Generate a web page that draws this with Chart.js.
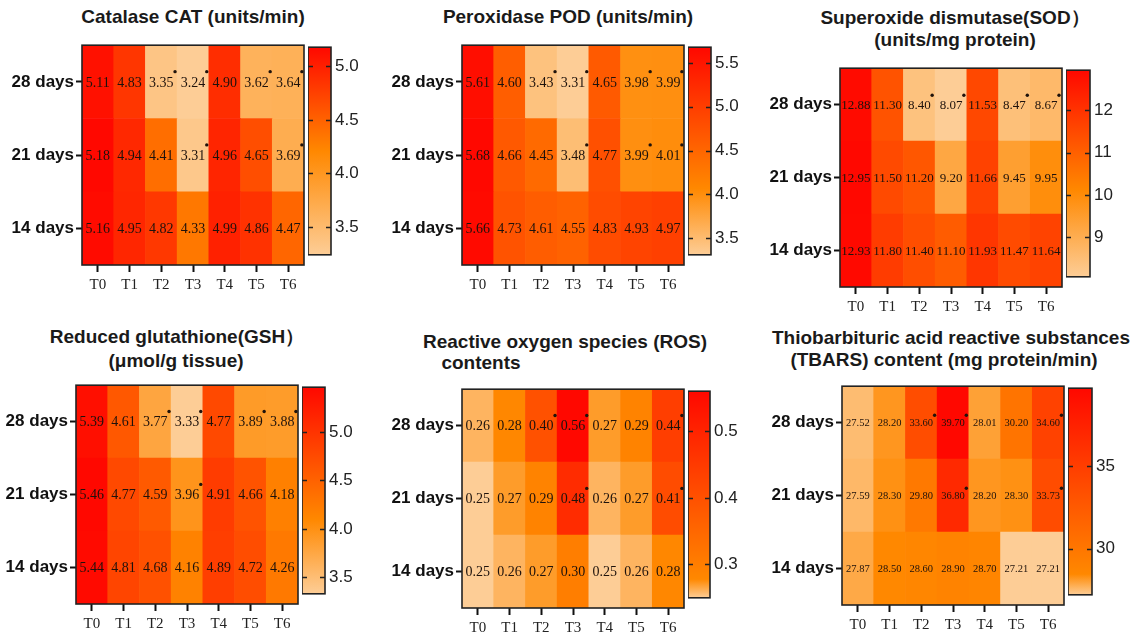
<!DOCTYPE html>
<html>
<head>
<meta charset="utf-8">
<script src="https://cdn.jsdelivr.net/npm/chart.js@4.4.1/dist/chart.umd.min.js"></script>
<style>
body { margin:0; background:#fff; width:1142px; height:638px; position:relative; overflow:hidden; font-family:"Liberation Sans", Arial, sans-serif; }
canvas { position:absolute; }
.title { position:absolute; font-weight:bold; font-size:19px; line-height:22px; color:#1a1a1a; white-space:nowrap; transform:translateX(-50%); }
</style>
</head>
<body>
<script>
// Row / column labels
const treatments = ['T0', 'T1', 'T2', 'T3', 'T4', 'T5', 'T6'];
const dayLabels = ['14 days', '21 days', '28 days'];   // bottom to top

// Catalase CAT (units/min)
const cat28 = [5.11, 4.83, 3.35, 3.24, 4.90, 3.62, 3.64];
const cat21 = [5.18, 4.94, 4.41, 3.31, 4.96, 4.65, 3.69];
const cat14 = [5.16, 4.95, 4.82, 4.33, 4.99, 4.86, 4.47];
const catStar28 = [2, 3, 5, 6];
const catStar21 = [3, 6];

// Peroxidase POD (units/min)
const pod28 = [5.61, 4.60, 3.43, 3.31, 4.65, 3.98, 3.99];
const pod21 = [5.68, 4.66, 4.45, 3.48, 4.77, 3.99, 4.01];
const pod14 = [5.66, 4.73, 4.61, 4.55, 4.83, 4.93, 4.97];
const podStar28 = [2, 3, 5, 6];
const podStar21 = [3, 5, 6];

// Superoxide dismutase SOD (units/mg protein)
const sod28 = [12.88, 11.30, 8.40, 8.07, 11.53, 8.47, 8.67];
const sod21 = [12.95, 11.50, 11.20, 9.20, 11.66, 9.45, 9.95];
const sod14 = [12.93, 11.80, 11.40, 11.10, 11.93, 11.47, 11.64];
const sodStar28 = [2, 3, 5, 6];
const sodStar21 = [];

// Reduced glutathione GSH (umol/g tissue)
const gsh28 = [5.39, 4.61, 3.77, 3.33, 4.77, 3.89, 3.88];
const gsh21 = [5.46, 4.77, 4.59, 3.96, 4.91, 4.66, 4.18];
const gsh14 = [5.44, 4.81, 4.68, 4.16, 4.89, 4.72, 4.26];
const gshStar28 = [2, 3, 5, 6];
const gshStar21 = [3];

// Reactive oxygen species ROS
const ros28 = [0.26, 0.28, 0.40, 0.56, 0.27, 0.29, 0.44];
const ros21 = [0.25, 0.27, 0.29, 0.48, 0.26, 0.27, 0.41];
const ros14 = [0.25, 0.26, 0.27, 0.30, 0.25, 0.26, 0.28];
const rosStar28 = [2, 3, 6];
const rosStar21 = [3, 6];

// TBARS (mg protein/min)
const tbars28 = [27.52, 28.20, 33.60, 39.70, 28.01, 30.20, 34.60];
const tbars21 = [27.59, 28.30, 29.80, 36.80, 28.20, 28.30, 33.73];
const tbars14 = [27.87, 28.50, 28.60, 28.90, 28.70, 27.21, 27.21];
const tbarsStar28 = [2, 3, 6];
const tbarsStar21 = [3, 6];

// layout
const AXIS_W = 80, PAD_T = 6, PAD_R = 2, X_AXIS_H = 36, CB_AXIS_W = 44;
const LOW = [253, 205, 150], MID = [255, 136, 0], HIGH = [255, 8, 0];

const panels = [
    { title: [['Catalase CAT (units/min)', 193, 17]],
      box: [82, 39, 304, 265], cb: [308, 331],
      rows: [cat14, cat21, cat28], stars: [[], catStar21, catStar28],
      mid: 0.5, step: 0.5, dec: 1, cell: 14 },
    { title: [['Peroxidase POD (units/min)', 568, 17]],
      box: [462, 39, 684, 265], cb: [688, 711],
      rows: [pod14, pod21, pod28], stars: [[], podStar21, podStar28],
      mid: 0.32, step: 0.5, dec: 1, cell: 14 },
    { title: [['Superoxide dismutase(SOD）', 955, 18], ['(units/mg protein)', 955, 40]],
      box: [840, 62, 1062, 287], cb: [1066, 1090],
      rows: [sod14, sod21, sod28], stars: [[], sodStar21, sodStar28],
      mid: 0.42, step: 1, dec: 0, cell: 13 },
    { title: [['Reduced glutathione(GSH）', 177, 337], ['(μmol/g tissue)', 176, 361]],
      box: [76, 379, 298, 604], cb: [302, 325],
      rows: [gsh14, gsh21, gsh28], stars: [[], gshStar21, gshStar28],
      mid: 0.36, step: 0.5, dec: 1, cell: 14 },
    { title: [['Reactive oxygen species (ROS)', 565, 342], ['contents', 481, 363]],
      box: [462, 383, 684, 608], cb: [688, 710],
      rows: [ros14, ros21, ros28], stars: [[], rosStar21, rosStar28],
      mid: 0.09, step: 0.1, dec: 1, cell: 14 },
    { title: [['Thiobarbituric acid reactive substances', 951, 338], ['(TBARS) content (mg protein/min)', 944, 360]],
      box: [842, 380, 1064, 605], cb: [1068, 1092],
      rows: [tbars14, tbars21, tbars28], stars: [[], tbarsStar21, tbarsStar28],
      mid: 0.1, step: 5, dec: 0, cell: 10.5 }
];

function mix(a, b, t) {
    return a.map((c, i) => Math.round(c + (b[i] - c) * t));
}

// value -> colour on the peach / orange / red scale
function colorFor(v, lo, hi, mid) {
    const t = Math.max(0, Math.min(1, (v - lo) / (hi - lo)));
    const c = t < mid ? mix(LOW, MID, t / mid) : mix(MID, HIGH, (t - mid) / (1 - mid));
    return 'rgb(' + c.join(',') + ')';
}

function rgb(c) { return 'rgb(' + c.join(',') + ')'; }

function makeCanvas(left, top, w, h) {
    const c = document.createElement('canvas');
    c.width = w; c.height = h;
    c.style.left = left + 'px'; c.style.top = top + 'px';
    c.style.width = w + 'px'; c.style.height = h + 'px';
    document.body.appendChild(c);
    return c;
}

// Draws the numbers, significance dots and the frame of the heatmap
const cellLabels = {
    id: 'cellLabels',
    afterDatasetsDraw(chart, args, opts) {
        const ctx = chart.ctx;
        ctx.save();
        ctx.font = opts.size + 'px "Liberation Serif", "Times New Roman", serif';
        ctx.textAlign = 'center';
        ctx.textBaseline = 'middle';
        ctx.fillStyle = '#1e120c';
        chart.data.datasets.forEach((ds, i) => {
            const meta = chart.getDatasetMeta(i);
            meta.data.forEach((bar, j) => {
                const txt = ds.values[j].toFixed(2);
                const cx = bar.x, cy = (bar.y + bar.base) / 2 + 1;
                ctx.fillText(txt, cx, cy);
                if (ds.stars.includes(j)) {
                    const w = ctx.measureText(txt).width;
                    ctx.beginPath();
                    ctx.arc(cx + w / 2 + 1.5, cy - opts.size * 0.8, 1.7, 0, Math.PI * 2);
                    ctx.fill();
                }
            });
        });
        const a = chart.chartArea;
        ctx.strokeStyle = '#222';
        ctx.lineWidth = 1.6;
        ctx.strokeRect(a.left, a.top, a.right - a.left, a.bottom - a.top);
        ctx.restore();
    }
};

// Frame and inner tick marks of the colour bar
const cbFrame = {
    id: 'cbFrame',
    afterDatasetsDraw(chart) {
        const ctx = chart.ctx, a = chart.chartArea, y = chart.scales.y;
        ctx.save();
        ctx.strokeStyle = '#222';
        ctx.lineWidth = 1.6;
        y.ticks.forEach(t => {
            const py = Math.round(y.getPixelForValue(t.value)) + 0.5;
            ctx.beginPath();
            ctx.moveTo(a.left, py); ctx.lineTo(a.left + 5, py);
            ctx.moveTo(a.right - 5, py); ctx.lineTo(a.right, py);
            ctx.stroke();
        });
        ctx.strokeRect(a.left, a.top, a.right - a.left, a.bottom - a.top);
        ctx.restore();
    }
};

function drawPanel(p) {
    p.title.forEach(([text, cx, cy]) => {
        const d = document.createElement('div');
        d.className = 'title';
        d.textContent = text;
        d.style.left = cx + 'px';
        d.style.top = (cy - 11) + 'px';
        document.body.appendChild(d);
    });

    const all = p.rows.flat();
    const lo = Math.min(...all), hi = Math.max(...all);
    const [bl, bt, br, bb] = p.box;

    // heatmap
    const left = bl - AXIS_W, top = bt - PAD_T;
    const hm = makeCanvas(left, top, br - left + PAD_R, bb - top + X_AXIS_H);
    new Chart(hm, {
        type: 'bar',
        data: {
            labels: treatments,
            datasets: p.rows.map((vals, i) => ({
                label: dayLabels[i],
                data: vals.map(() => 1),
                values: vals,
                stars: p.stars[i],
                backgroundColor: vals.map(v => colorFor(v, lo, hi, p.mid)),
                borderWidth: 0,
                barPercentage: 1,
                categoryPercentage: 1
            }))
        },
        options: {
            responsive: false,
            animation: false,
            layout: { padding: { top: PAD_T, right: PAD_R, left: 0, bottom: 0 } },
            plugins: {
                legend: { display: false },
                tooltip: { enabled: false },
                cellLabels: { size: p.cell }
            },
            scales: {
                x: {
                    stacked: true,
                    border: { display: false },
                    grid: { offset: false, drawOnChartArea: false, drawTicks: true, tickLength: 7, tickWidth: 2, tickColor: '#111' },
                    ticks: { font: { family: '"Liberation Serif", "Times New Roman", serif', size: 15 }, color: '#222', padding: 4 },
                    afterFit: s => { s.height = X_AXIS_H; }
                },
                y: {
                    stacked: true,
                    min: 0,
                    max: 3,
                    afterBuildTicks: s => { s.ticks = [0.5, 1.5, 2.5].map(v => ({ value: v })); },
                    border: { display: false },
                    grid: { drawOnChartArea: false, drawTicks: true, tickLength: 6, tickWidth: 2, tickColor: '#111' },
                    ticks: {
                        callback: v => dayLabels[Math.floor(v)],
                        font: { family: '"Liberation Sans", Arial, sans-serif', size: 17, weight: 'bold' },
                        color: '#111',
                        padding: 2
                    },
                    afterFit: s => { s.width = AXIS_W; }
                }
            }
        },
        plugins: [cellLabels]
    });

    // colour bar
    const [cl, cr] = p.cb;
    const cbc = makeCanvas(cl, top, cr - cl + CB_AXIS_W, bb - top + 4);
    new Chart(cbc, {
        type: 'bar',
        data: {
            labels: [''],
            datasets: [{
                data: [[lo, hi]],
                backgroundColor: c => {
                    const area = c.chart.chartArea;
                    if (!area) return null;
                    const g = c.chart.ctx.createLinearGradient(0, area.bottom, 0, area.top);
                    g.addColorStop(0, rgb(LOW));
                    g.addColorStop(p.mid, rgb(MID));
                    g.addColorStop(1, rgb(HIGH));
                    return g;
                },
                borderWidth: 0,
                barPercentage: 1,
                categoryPercentage: 1
            }]
        },
        options: {
            responsive: false,
            animation: false,
            layout: { padding: { top: PAD_T, bottom: 4, left: 0, right: 0 } },
            plugins: { legend: { display: false }, tooltip: { enabled: false } },
            scales: {
                x: { display: false },
                y: {
                    position: 'right',
                    min: lo,
                    max: hi,
                    border: { display: false },
                    grid: { display: false, drawTicks: false },
                    ticks: {
                        stepSize: p.step,
                        includeBounds: false,
                        callback: v => v.toFixed(p.dec),
                        font: { family: '"Liberation Sans", Arial, sans-serif', size: 17 },
                        color: '#222',
                        padding: 4
                    },
                    afterFit: s => { s.width = CB_AXIS_W; }
                }
            }
        },
        plugins: [cbFrame]
    });
}

panels.forEach(drawPanel);
</script>
</body>
</html>
